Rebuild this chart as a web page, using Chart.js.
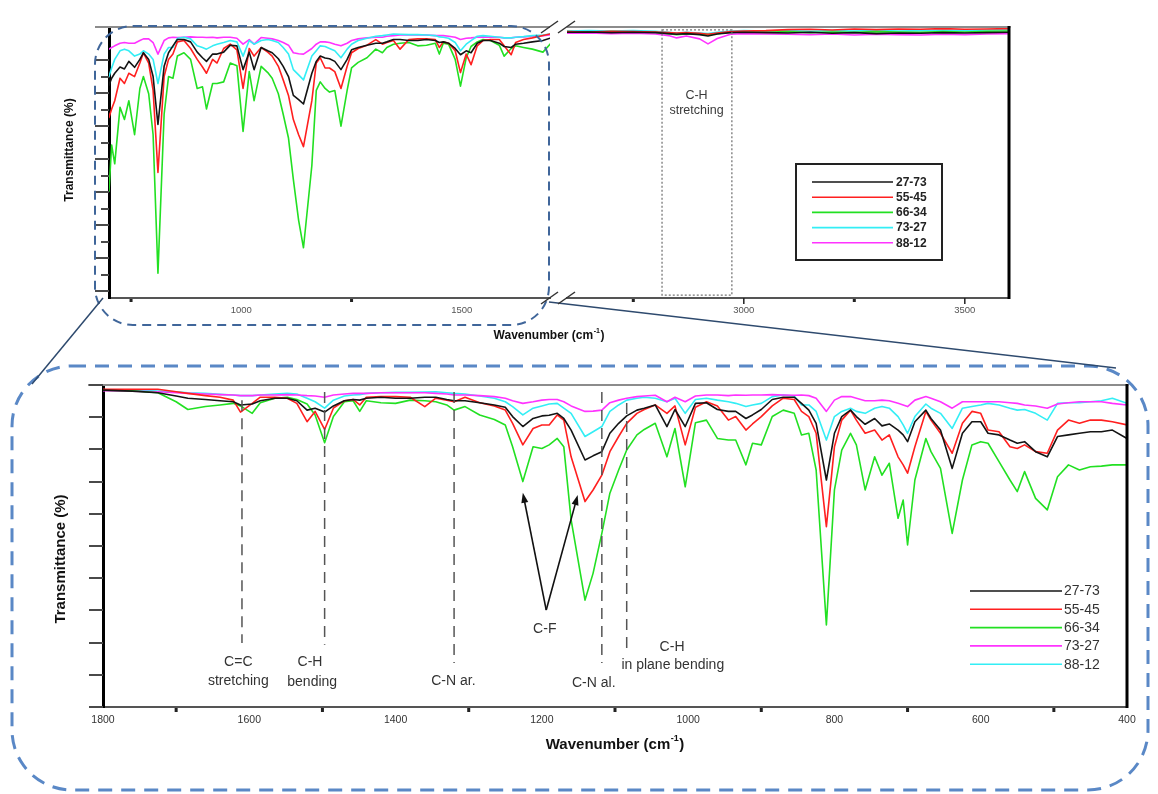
<!DOCTYPE html>
<html>
<head>
<meta charset="utf-8">
<title>FTIR spectra</title>
<script src="https://cdn.jsdelivr.net/npm/chart.js@4.4.1/dist/chart.umd.min.js"></script>
<style>
  html, body { margin: 0; padding: 0; background: #fff; }
  #page { position: relative; width: 1158px; height: 794px; overflow: hidden; }
  #page canvas, #page svg { position: absolute; left: 0; }
  #page svg { top: 0; pointer-events: none; }
</style>
</head>
<body>
<div id="page">
  <canvas id="topLow" width="1158" height="360" style="top:0"></canvas>
  <canvas id="topHigh" width="1158" height="360" style="top:0"></canvas>
  <canvas id="bottom" width="1158" height="434" style="top:360px"></canvas>
  <svg width="1158" height="794">
    <rect x="95" y="26" width="454" height="299" rx="38" ry="38" fill="none" stroke="#40669a" stroke-width="2" stroke-dasharray="9 6"/>
    <rect x="12" y="366" width="1136" height="424" rx="60" ry="60" fill="none" stroke="#5a88c6" stroke-width="3" stroke-dasharray="14 9"/>
    <line x1="103" y1="298" x2="32" y2="384" stroke="#2e4a6e" stroke-width="1.5"/>
    <line x1="549" y1="302" x2="1116" y2="368" stroke="#2e4a6e" stroke-width="1.5"/>
    <g stroke="#333" stroke-width="1.5">
      <line x1="541" y1="33" x2="558" y2="21"/>
      <line x1="558" y1="33" x2="575" y2="21"/>
      <line x1="541" y1="304" x2="558" y2="292"/>
      <line x1="558" y1="304" x2="575" y2="292"/>
    </g>
  </svg>
</div>
<script>
// FTIR spectra, transmittance (top of frame = 100)
const wavenumbers = [1800,1760,1725,1700,1684,1660,1640,1622,1612,1596,1585,1565,1548,1535,1521,1510,1497,1485,1470,1458,
  1449,1440,1420,1400,1380,1360,1345,1330,1320,1305,1285,1265,1250,1240,1226,1212,1200,1190,1179,1170,
  1160,1141,1130,1118,1107,1095,1084,1070,1060,1045,1029,1018,1004,990,975,960,945,935,921,912,
  900,885,870,855,845,835,825,811,800,790,778,770,758,745,735,725,713,706,700,690,
  675,668,655,639,625,612,600,590,575,560,550,540,525,509,495,480,465,450,435,420,400];

const s2773 = [98.4,98.1,97.6,96.6,95.9,95.5,95.1,94.8,93.8,94.1,95.1,95.9,95.9,95.1,92.2,92.8,91.6,93.5,95.1,95.5,
  95.3,95.9,96.2,95.9,95.9,96.2,96.2,95.5,95.1,95.1,94.5,93.8,93.1,90.2,87.1,89.6,90.4,90.6,91.2,89.6,
  86.0,76.7,78.0,79.3,85.0,88.1,90.4,92.2,92.8,93.8,87.1,92.4,87.1,94.3,94.5,92.4,91.8,91.8,89.6,90.7,
  92.4,95.5,96.2,96.2,94.3,92.2,88.1,70.5,85.0,90.2,92.2,90.2,87.8,89.6,87.3,87.9,86.0,84.5,82.4,88.6,
  92.2,89.6,86.0,74.1,85.0,88.6,88.6,85.0,84.5,82.9,81.9,82.4,79.3,77.7,84.0,84.5,85.0,85.5,85.5,86.0,83.4];

const s5545 = [98.7,98.7,98.7,97.9,97.4,96.7,96.2,95.3,91.6,94.3,96.2,96.2,95.9,94.3,88.6,91.8,86.2,92.8,95.1,95.5,
  93.8,96.2,96.4,96.4,96.2,93.3,95.9,95.3,94.8,96.2,94.5,93.5,92.2,88.1,81.4,86.5,87.6,87.6,90.7,89.1,
  77.7,63.8,67.4,72.0,79.3,84.0,88.1,91.2,92.4,93.8,91.2,93.5,81.4,93.1,94.8,93.5,89.1,90.2,86.0,87.9,
  90.2,93.5,95.9,95.5,91.8,90.2,85.0,56.0,80.8,89.1,92.2,89.1,85.0,86.0,82.9,84.5,77.7,75.2,72.6,80.8,
  91.8,89.1,85.0,78.8,88.1,91.8,91.2,86.0,85.5,80.8,80.3,81.4,79.3,78.8,86.0,89.1,88.1,89.1,89.1,88.6,87.6];

const s6634 = [98.4,98.2,97.6,94.8,92.4,93.3,93.8,94.3,93.5,91.2,94.5,95.9,96.2,95.5,94.1,90.7,82.1,90.2,94.8,95.1,
  91.8,95.1,94.5,94.3,95.3,95.1,94.8,93.8,92.2,93.3,90.7,89.3,87.6,80.8,70.0,80.8,80.3,81.4,83.4,80.8,
  58.1,33.2,41.5,53.9,66.4,73.6,79.8,84.5,86.2,88.1,77.7,86.5,68.4,88.3,89.1,83.4,82.9,82.9,75.2,81.9,
  81.4,90.2,92.2,91.2,84.5,85.0,73.6,25.5,67.4,79.8,85.0,81.4,67.4,77.7,72.0,75.7,58.6,64.3,50.3,70.5,
  83.4,79.3,74.1,53.9,70.5,81.4,82.4,81.9,76.2,70.5,66.9,73.1,64.8,61.2,71.5,75.2,73.6,74.6,74.8,75.2,75.2];

const s7327 = [98.2,98.1,97.9,97.6,97.4,97.2,97.0,96.9,96.7,96.7,96.9,96.9,97.0,96.9,96.7,96.6,96.2,96.9,97.2,97.4,
  97.4,97.4,97.6,97.6,97.6,97.6,97.4,97.2,96.9,96.9,96.7,96.4,95.9,95.1,94.3,94.8,95.3,95.5,95.5,94.8,
  93.5,91.8,91.9,92.2,94.5,95.3,95.9,96.4,96.6,96.8,94.8,96.2,94.8,96.6,96.9,96.9,96.7,96.9,96.8,96.9,
  96.9,97.0,96.9,96.8,96.9,96.7,95.9,91.8,95.3,96.4,96.4,95.9,95.1,95.1,95.3,95.1,94.3,93.8,93.3,95.3,
  96.4,95.9,94.8,92.8,94.8,94.8,94.8,94.8,94.8,94.5,94.3,93.8,93.5,92.8,94.1,94.5,94.8,94.8,94.8,94.3,93.8];

const s8812 = [98.4,98.4,98.1,97.9,97.6,97.4,97.1,96.9,96.7,96.7,96.9,97.2,97.4,97.2,95.9,94.8,92.8,95.3,96.6,96.9,
  97.0,97.4,97.6,97.7,97.7,97.8,97.9,97.6,97.4,97.2,96.6,95.9,94.8,93.3,90.7,92.8,93.5,94.1,94.3,92.8,
  91.2,84.0,85.5,87.1,91.8,93.8,95.3,95.9,96.2,95.9,94.8,95.9,91.2,95.5,95.9,95.3,94.8,94.3,93.3,93.8,
  94.3,96.4,96.9,96.6,93.8,93.8,91.8,82.9,90.2,91.8,92.8,91.8,91.2,92.8,93.3,92.8,90.2,87.6,85.0,90.2,
  94.1,92.8,91.2,86.5,92.8,93.3,93.8,94.3,93.8,92.8,92.2,92.4,91.2,89.1,94.3,94.5,94.5,94.8,95.1,95.9,94.3];

// C-H stretching region (upper right panel)
const wavenumbersHigh = [2600,2650,2700,2750,2800,2830,2848,2870,2900,2919,2940,2970,3000,3050,3100,3150,3200,3250,3300,3350,3400,3450,3500,3550,3600];
const h2773 = [98.4,98.5,98.3,98.4,98.3,98.0,97.8,98.0,97.7,97.3,97.9,98.3,98.4,98.3,98.2,98.4,98.1,98.3,98.0,98.2,98.1,98.3,98.2,98.3,98.4];
const h5545 = [98.6,98.5,98.7,98.6,98.5,98.3,98.2,98.3,98.1,97.8,98.2,98.6,98.8,98.9,99.2,99.3,99.1,99.4,99.2,99.4,99.3,99.5,99.3,99.4,99.5];
const h6634 = [98.6,98.4,98.6,98.5,98.4,98.0,97.7,97.9,97.8,97.7,98.0,98.4,98.5,98.4,98.6,98.3,98.5,98.4,98.6,98.5,98.4,98.6,98.5,98.7,98.8];
const h7327 = [98.1,98.2,98.0,98.1,97.9,97.4,96.7,97.3,96.4,94.9,96.5,97.8,98.0,97.9,97.8,97.7,97.9,97.6,97.8,97.7,97.6,97.8,97.7,97.9,98.0];
const h8812 = [98.8,98.9,98.8,98.9,98.7,98.4,98.2,98.4,98.2,98.0,98.4,98.8,98.9,98.8,98.9,98.7,98.9,98.8,99.0,98.8,98.9,99.0,98.9,99.1,99.2];

const seriesLabels = ['27-73', '55-45', '66-34', '73-27', '88-12'];
const bottomColors = ['#141414', '#ff1f1f', '#22e022', '#ff33ff', '#33eef5'];
// the upper legend lists the last two colours the other way round (as in the source figure)
const topColors = ['#141414', '#ff1f1f', '#22e022', '#33eef5', '#ff33ff'];

const bottomXTicks = [1800,1700,1600,1500,1400,1300,1200,1100,1000,900,800,700,600,500,400];
const lowXTicks = [750, 1000, 1250, 1500];
const highXTicks = [2750, 3000, 3250, 3500];
const bottomYTicks = [0,5,10,15,20,25,30,35,40,45,50,55,60,65,70,75,80,85,90,95,100];
const topYTicks = [20,25,30,35,40,45,50,55,60,65,70,75,80,85,90];

const FONT = '"Liberation Sans", Arial, Helvetica, sans-serif';
Chart.defaults.font.family = FONT;

function makeSets(xs, series, colors) {
  return series.map((ys, i) => ({
    label: seriesLabels[i],
    data: xs.map((x, j) => ({x: x, y: ys[j]})),
    borderColor: colors[i],
    borderWidth: 1.6,
    borderJoinStyle: 'round',
    pointRadius: 0,
    tension: 0,
    fill: false
  }));
}

function xScale(min, max, ticks, labelStep, reverse, size, color, height) {
  return {
    type: 'linear', min: min, max: max, reverse: reverse,
    afterBuildTicks: s => { s.ticks = ticks.map(v => ({value: v})); },
    afterFit: s => { s.height = height; },
    grid: {drawOnChartArea: false, drawTicks: false},
    border: {color: '#555', width: 2},
    ticks: {autoSkip: false, maxRotation: 0, padding: 7, color: color, font: {size: size},
      callback: v => (v % labelStep === 0 ? String(v) : '')}
  };
}

function yScale(min, max, ticks, width, display) {
  return {
    display: display, min: min, max: max,
    afterBuildTicks: s => { s.ticks = ticks.map(v => ({value: v})); },
    afterFit: s => { s.width = width; },
    grid: {drawOnChartArea: false, drawTicks: false},
    border: {color: '#000', width: 3},
    ticks: {callback: () => ''}
  };
}

// frame lines + the long/short tick marks
const framePlugin = {
  id: 'frame',
  afterDraw(chart, args, o) {
    const {ctx, chartArea: a, scales: {x, y}} = chart;
    ctx.save();
    ctx.strokeStyle = '#8c8c8c';
    ctx.lineWidth = 2;
    ctx.beginPath();
    ctx.moveTo(a.left - (o.topLead || 0), a.top);
    ctx.lineTo(a.right + (o.rightBorder ? 1.5 : 0), a.top);
    ctx.stroke();
    if (o.rightBorder) {
      ctx.strokeStyle = '#000';
      ctx.lineWidth = 3;
      ctx.beginPath();
      ctx.moveTo(a.right, a.top - 1);
      ctx.lineTo(a.right, a.bottom + 1);
      ctx.stroke();
    }
    if (y.options.display) {
      ctx.strokeStyle = '#4a4a4a';
      ctx.lineWidth = 2;
      y.ticks.forEach(t => {
        const py = Math.round(y.getPixelForValue(t.value));
        const len = t.value % 10 === 0 ? 14 : 8;
        ctx.beginPath();
        ctx.moveTo(a.left - len, py);
        ctx.lineTo(a.left, py);
        ctx.stroke();
      });
    }
    ctx.fillStyle = '#222';
    x.ticks.forEach(t => {
      const px = x.getPixelForValue(t.value);
      const major = t.value % o.labelStep === 0;
      if (major && o.majorTick) ctx.fillRect(px - 0.75, a.bottom, 1.5, o.majorTick);
      if (!major) ctx.fillRect(px - 1.5, a.bottom + 1, 3, o.minorTick);
    });
    ctx.restore();
  }
};

// band markers, arrows and labels placed in data units
const notesPlugin = {
  id: 'notes',
  afterDraw(chart, args, o) {
    const {ctx, scales: {x, y}} = chart;
    const X = v => x.getPixelForValue(v), Y = v => y.getPixelForValue(v);
    (o.items || []).forEach(it => {
      ctx.save();
      ctx.strokeStyle = it.color || '#555';
      ctx.fillStyle = it.color || '#333';
      if (it.type === 'vline') {
        ctx.lineWidth = 1.5;
        ctx.setLineDash([11, 7]);
        ctx.beginPath();
        ctx.moveTo(X(it.at), Y(it.from));
        ctx.lineTo(X(it.at), Y(it.to));
        ctx.stroke();
      } else if (it.type === 'box') {
        ctx.lineWidth = 1.3;
        ctx.setLineDash([2, 2]);
        ctx.strokeRect(X(it.x1), Y(it.y1), X(it.x2) - X(it.x1), Y(it.y2) - Y(it.y1));
      } else if (it.type === 'arrow') {
        const x0 = X(it.from[0]), y0 = Y(it.from[1]), x1 = X(it.to[0]), y1 = Y(it.to[1]);
        const ang = Math.atan2(y1 - y0, x1 - x0), c = Math.cos(ang), s = Math.sin(ang);
        ctx.lineWidth = 1.6;
        ctx.beginPath();
        ctx.moveTo(x0, y0);
        ctx.lineTo(x1 - 6 * c, y1 - 6 * s);
        ctx.stroke();
        ctx.beginPath();
        ctx.moveTo(x1, y1);
        ctx.lineTo(x1 - 10 * c + 3.5 * s, y1 - 10 * s - 3.5 * c);
        ctx.lineTo(x1 - 10 * c - 3.5 * s, y1 - 10 * s + 3.5 * c);
        ctx.closePath();
        ctx.fill();
      } else if (it.type === 'text') {
        ctx.font = (it.bold ? 'bold ' : '') + it.size + 'px ' + FONT;
        ctx.textAlign = 'center';
        ctx.textBaseline = 'middle';
        ctx.fillText(it.text, X(it.x), Y(it.y));
      }
      ctx.restore();
    });
  }
};

function drawWavenumber(ctx, cx, cy, size) {
  const main = 'bold ' + size + 'px ' + FONT, sup = 'bold ' + Math.round(size * 0.62) + 'px ' + FONT;
  const a = 'Wavenumber (cm', b = '-1', c = ')';
  ctx.font = main;
  const wa = ctx.measureText(a).width, wc = ctx.measureText(c).width;
  ctx.font = sup;
  const wb = ctx.measureText(b).width + 1;
  const x0 = cx - (wa + wb + wc) / 2;
  ctx.textAlign = 'left';
  ctx.textBaseline = 'middle';
  ctx.font = main;
  ctx.fillText(a, x0, cy);
  ctx.font = sup;
  ctx.fillText(b, x0 + wa + 0.5, cy - size * 0.42);
  ctx.font = main;
  ctx.fillText(c, x0 + wa + wb, cy);
}

const titlesPlugin = {
  id: 'titles',
  afterDraw(chart, args, o) {
    const ctx = chart.ctx;
    ctx.save();
    ctx.fillStyle = '#111';
    if (o.x) drawWavenumber(ctx, o.x.cx, o.x.cy, o.x.size);
    if (o.y) {
      ctx.translate(o.y.cx, o.y.cy);
      ctx.rotate(-Math.PI / 2);
      ctx.font = 'bold ' + o.y.size + 'px ' + FONT;
      ctx.textAlign = 'center';
      ctx.textBaseline = 'middle';
      ctx.fillText('Transmittance (%)', 0, 0);
    }
    ctx.restore();
  }
};

const legendPlugin = {
  id: 'lineLegend',
  afterDraw(chart, args, o) {
    if (!o.x1) return;
    const ctx = chart.ctx;
    ctx.save();
    if (o.box) {
      ctx.strokeStyle = '#222';
      ctx.lineWidth = 2;
      ctx.strokeRect(o.box[0], o.box[1], o.box[2], o.box[3]);
    }
    ctx.font = (o.bold ? 'bold ' : '') + o.size + 'px ' + FONT;
    ctx.textAlign = 'left';
    ctx.textBaseline = 'middle';
    chart.data.datasets.forEach((ds, i) => {
      const yy = o.top + i * o.step;
      ctx.strokeStyle = ds.borderColor;
      ctx.lineWidth = 1.6;
      ctx.beginPath();
      ctx.moveTo(o.x1, yy);
      ctx.lineTo(o.x2, yy);
      ctx.stroke();
      ctx.fillStyle = o.color;
      ctx.fillText(ds.label, o.textX, yy + 0.5);
    });
    ctx.restore();
  }
};

const allPlugins = [framePlugin, notesPlugin, titlesPlugin, legendPlugin];
const basePlugins = {legend: {display: false}, tooltip: {enabled: false}};

// upper panel, 700-1700 part (same spectra, wider y range)
new Chart(document.getElementById('topLow'), {
  type: 'line',
  data: {datasets: makeSets(wavenumbers, [s2773, s5545, s6634, s8812, s7327], topColors)},
  options: {
    responsive: false, animation: false, events: [],
    layout: {padding: {left: 0, top: 27, right: 608, bottom: 0}},
    scales: {
      x: xScale(700, 1700, lowXTicks, 500, false, 9.5, '#555', 62),
      y: yScale(18, 100, topYTicks, 109, true)
    },
    plugins: Object.assign({}, basePlugins, {
      frame: {topLead: 14, labelStep: 500, majorTick: 0, minorTick: 3},
      titles: {x: {cx: 549, cy: 336, size: 12}, y: {cx: 70, cy: 150, size: 12}}
    })
  },
  plugins: allPlugins
});

// upper panel, C-H stretching part
new Chart(document.getElementById('topHigh'), {
  type: 'line',
  data: {datasets: makeSets(wavenumbersHigh, [h2773, h5545, h6634, h8812, h7327], topColors)},
  options: {
    responsive: false, animation: false, events: [],
    layout: {padding: {left: 567, top: 27, right: 149, bottom: 0}},
    scales: {
      x: xScale(2600, 3600, highXTicks, 500, false, 9.5, '#555', 62),
      y: yScale(18, 100, topYTicks, 0, false)
    },
    plugins: Object.assign({}, basePlugins, {
      frame: {topLead: 0, rightBorder: true, labelStep: 500, majorTick: 6, minorTick: 3},
      notes: {items: [
        {type: 'box', x1: 2815, x2: 2973, y1: 99.1, y2: 18.9, color: '#777'},
        {type: 'text', text: 'C-H', x: 2893, y: 79.4, size: 12.5, color: '#3a3a3a'},
        {type: 'text', text: 'stretching', x: 2893, y: 74.6, size: 12.5, color: '#3a3a3a'}
      ]},
      lineLegend: {box: [796, 164, 146, 96], top: 182, step: 15.2, x1: 812, x2: 893, textX: 896, size: 12, bold: true, color: '#222'}
    })
  },
  plugins: allPlugins
});

// lower panel, 1800-400 cm-1
new Chart(document.getElementById('bottom'), {
  type: 'line',
  data: {datasets: makeSets(wavenumbers, [s2773, s5545, s6634, s7327, s8812], bottomColors)},
  options: {
    responsive: false, animation: false, events: [],
    layout: {padding: {left: 0, top: 25, right: 31, bottom: 0}},
    scales: {
      x: xScale(400, 1800, bottomXTicks, 200, true, 10.5, '#333', 87),
      y: yScale(0, 100, bottomYTicks, 103, true)
    },
    plugins: Object.assign({}, basePlugins, {
      frame: {topLead: 15, rightBorder: true, labelStep: 200, majorTick: 0, minorTick: 4},
      titles: {x: {cx: 615, cy: 385, size: 15}, y: {cx: 61, cy: 199, size: 15}},
      notes: {items: [
        {type: 'vline', at: 1610, from: 95.3, to: 19.9},
        {type: 'vline', at: 1497, from: 97.8, to: 19.3},
        {type: 'vline', at: 1320, from: 97.8, to: 13.7},
        {type: 'vline', at: 1118, from: 97.8, to: 13.7},
        {type: 'vline', at: 1084, from: 94.4, to: 16.8},
        {type: 'arrow', from: [1194, 30.1], to: [1226, 66.5], color: '#111'},
        {type: 'arrow', from: [1194, 30.1], to: [1151, 65.8], color: '#111'},
        {type: 'text', text: 'C=C', x: 1615, y: 14.0, size: 14},
        {type: 'text', text: 'stretching', x: 1615, y: 8.1, size: 14},
        {type: 'text', text: 'C-H', x: 1517, y: 14.0, size: 14},
        {type: 'text', text: 'bending', x: 1514, y: 7.8, size: 14},
        {type: 'text', text: 'C-N ar.', x: 1321, y: 8.1, size: 14},
        {type: 'text', text: 'C-N al.', x: 1129, y: 7.5, size: 14},
        {type: 'text', text: 'C-H', x: 1022, y: 18.6, size: 14},
        {type: 'text', text: 'in plane bending', x: 1021, y: 13.0, size: 14},
        {type: 'text', text: 'C-F', x: 1196, y: 24.2, size: 14}
      ]},
      lineLegend: {top: 231, step: 18.3, x1: 970, x2: 1062, textX: 1064, size: 14, bold: false, color: '#333'}
    })
  },
  plugins: allPlugins
});
</script>
</body>
</html>
